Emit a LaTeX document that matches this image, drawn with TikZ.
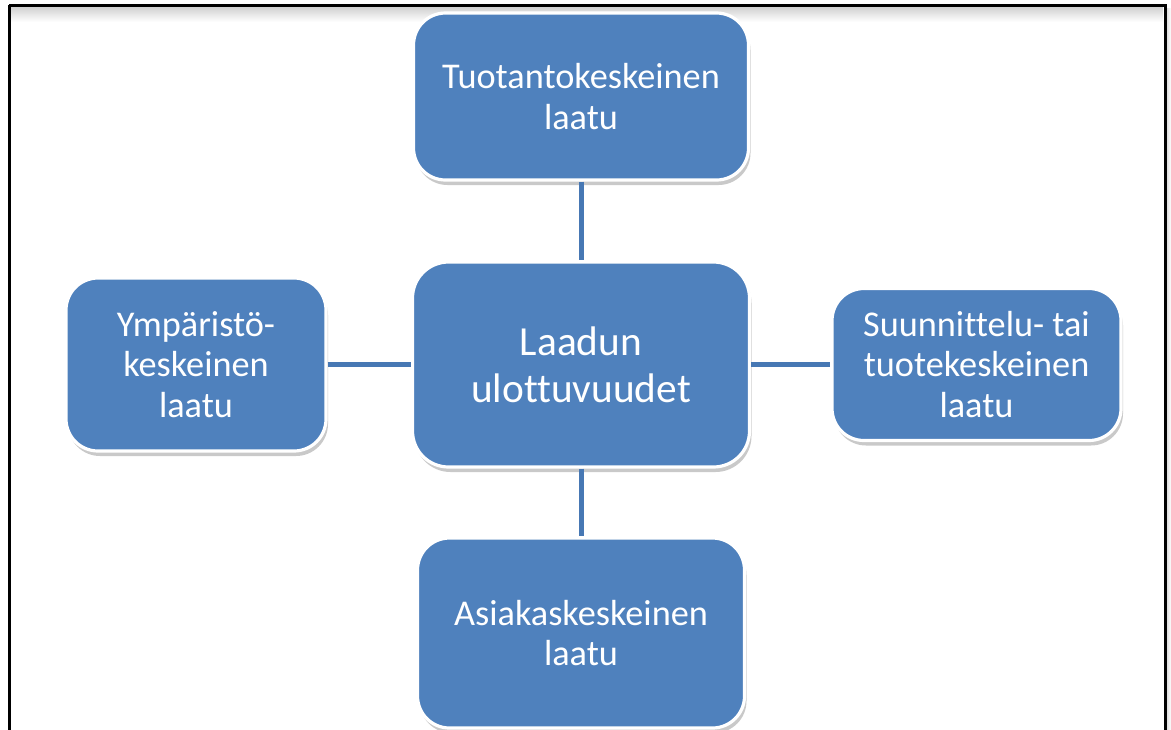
\documentclass[tikz,border=0pt]{standalone}
\usepackage{fontspec}
\setmainfont{Carlito}[Ligatures=NoCommon]
\usetikzlibrary{shadows}
\newdimen\pxu \pxu=0.75pt
\definecolor{boxblue}{HTML}{4F81BD}
\definecolor{lineblue}{HTML}{4778B4}
\tikzset{
  qbox/.style={rectangle, rounded corners=32\pxu, fill=boxblue, draw=white, line width=3.2\pxu,
    text=white, align=center, font=\fontsize{27.2pt}{30.5pt}\selectfont,
    drop shadow={opacity=0.35, shadow xshift=2\pxu, shadow yshift=-5\pxu, fill=black!60},
    inner sep=0pt},
  conn/.style={draw=lineblue, line width=5\pxu}
}
\begin{document}
\begin{tikzpicture}[x=0.75pt,y=-0.75pt]
\useasboundingbox (0,0) rectangle (1171,729);
\clip (0,0) rectangle (1171,729);
\fill[white] (0,0) rectangle (1171,729);
\shade[top color=black!18, bottom color=white] (11,7) rectangle (1163,22);
\shade[left color=black!15, right color=white] (1166,8) rectangle (1171,729);
\draw[black, line width=3\pxu] (9,5) -- (1165,5) -- (1165,740) (9,5) -- (9,740);
\node[qbox, minimum width=335\pxu, minimum height=167\pxu] (top) at (581,96.5) {Tuotantokeskeinen\\laatu};
\node[qbox, rounded corners=36\pxu, minimum width=337\pxu, minimum height=205\pxu,
      font=\fontsize{31pt}{35.5pt}\selectfont] (center) at (581,364.5) {Laadun\\ulottuvuudet};
\node[qbox, minimum width=260\pxu, minimum height=173\pxu] (left) at (196,364.5) {Ympäristö-\\keskeinen\\laatu};
\node[qbox, minimum width=289\pxu, minimum height=152\pxu] (right) at (976.5,364.5) {Suunnittelu- tai\\tuotekeskeinen\\laatu};
\node[qbox, minimum width=327\pxu, minimum height=190\pxu] (bottom) at (581,633) {Asiakaskeskeinen\\laatu};
\draw[conn] (top) -- (center);
\draw[conn] (center) -- (bottom);
\draw[conn] (left) -- (center);
\draw[conn] (center) -- (right);
\end{tikzpicture}
\end{document}
